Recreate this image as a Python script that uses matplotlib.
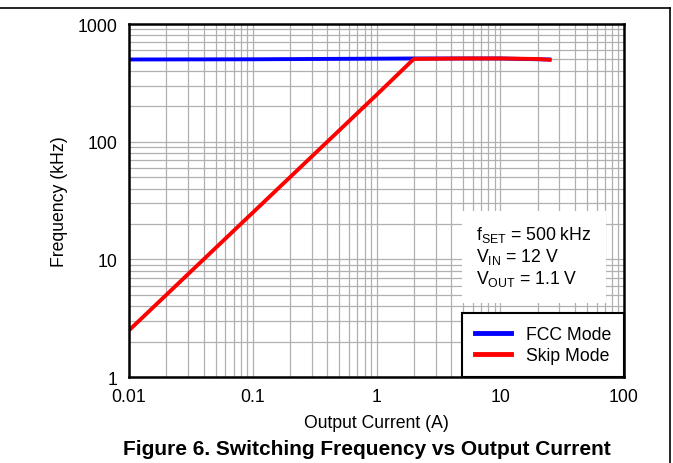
import numpy as np
import matplotlib
matplotlib.use('Agg')
import matplotlib.pyplot as plt
from matplotlib.lines import Line2D
from matplotlib.patches import Rectangle
from matplotlib.ticker import LogLocator, FixedLocator, FixedFormatter, NullFormatter

plt.rcParams['font.family'] = ['Liberation Sans', 'DejaVu Sans']
plt.rcParams['mathtext.fontset'] = 'custom'
plt.rcParams['mathtext.rm'] = 'Liberation Sans'
plt.rcParams['mathtext.it'] = 'Liberation Sans'

# data
fcc_current = [0.01, 0.1, 1, 2, 10, 25]
fcc_freq = [500, 502, 508, 510, 510, 500]
skip_current = [0.01, 0.1, 1, 2, 5, 10, 20, 25]
skip_freq = [2.5, 25, 250, 505, 510, 510, 505, 497]

x_ticks = [0.01, 0.1, 1, 10, 100]
x_labels = ['0.01', '0.1', '1', '10', '100']
y_ticks = [1, 10, 100, 1000]
y_labels = ['1', '10', '100', '1000']

fs = 12.7

fig = plt.figure(figsize=(6.73, 4.64), dpi=100)
ax = fig.add_axes([0.1917, 0.185, 0.7355, 0.761])

ax.plot(fcc_current, fcc_freq, color='#0000ff', lw=2.8, label='FCC Mode', zorder=4)
ax.plot(skip_current, skip_freq, color='#ff0000', lw=2.8, label='Skip Mode', zorder=5)

ax.set_xscale('log')
ax.set_yscale('log')
ax.set_xlim(0.01, 100)
ax.set_ylim(1, 1000)

ax.xaxis.set_major_locator(FixedLocator(x_ticks))
ax.xaxis.set_major_formatter(FixedFormatter(x_labels))
ax.yaxis.set_major_locator(FixedLocator(y_ticks))
ax.yaxis.set_major_formatter(FixedFormatter(y_labels))
ax.xaxis.set_minor_locator(LogLocator(base=10, subs=np.arange(2, 10), numticks=20))
ax.yaxis.set_minor_locator(LogLocator(base=10, subs=np.arange(2, 10), numticks=20))
ax.xaxis.set_minor_formatter(NullFormatter())
ax.yaxis.set_minor_formatter(NullFormatter())
ax.tick_params(which='both', length=0, labelsize=fs, colors='black')
ax.tick_params(axis='x', pad=8)
ax.tick_params(axis='y', pad=8)
ax.grid(True, which='both', color='#b0b0b0', lw=0.9)
ax.set_axisbelow(True)

for s in ax.spines.values():
    s.set_linewidth(1.8)
    s.set_color('black')
    s.set_zorder(6)

ax.set_xlabel('Output Current (A)', fontsize=fs)
ax.xaxis.set_label_coords(0.5, -0.104)
ax.set_ylabel('Frequency (kHz)', fontsize=fs)
ax.yaxis.set_label_coords(-0.123, 0.5)

# conditions box
ax.add_patch(Rectangle((0.673, 0.211), 0.29, 0.26, transform=ax.transAxes,
                       facecolor='white', edgecolor='none', zorder=2))
ax.text(0.70, 0.405, 'f$_{\\mathrm{SET}}$ = 500 kHz', transform=ax.transAxes,
        fontsize=fs, va='center', zorder=3)
ax.text(0.70, 0.343, 'V$_{\\mathrm{IN}}$ = 12 V', transform=ax.transAxes,
        fontsize=fs, va='center', zorder=3)
ax.text(0.70, 0.281, 'V$_{\\mathrm{OUT}}$ = 1.1 V', transform=ax.transAxes,
        fontsize=fs, va='center', zorder=3)

leg = ax.legend(loc='lower right', borderaxespad=0, fancybox=False,
                edgecolor='black', fontsize=fs, handlelength=2.0,
                handletextpad=0.85, borderpad=0.75, labelspacing=0.2, framealpha=1)
leg.get_frame().set_linewidth(1.5)
for h in leg.get_lines():
    h.set_linewidth(3.5)
leg.set_zorder(7)

fig.text(0.545, 0.031, 'Figure 6. Switching Frequency vs Output Current',
         fontsize=15, fontweight='bold', ha='center', va='center')

# page frame lines
fig.add_artist(Line2D([0, 0.9955], [0.980, 0.980], color='black', lw=1.2))
fig.add_artist(Line2D([0.9955, 0.9955], [0, 0.980], color='black', lw=1.2))

fig.savefig('out.png', dpi=100)
